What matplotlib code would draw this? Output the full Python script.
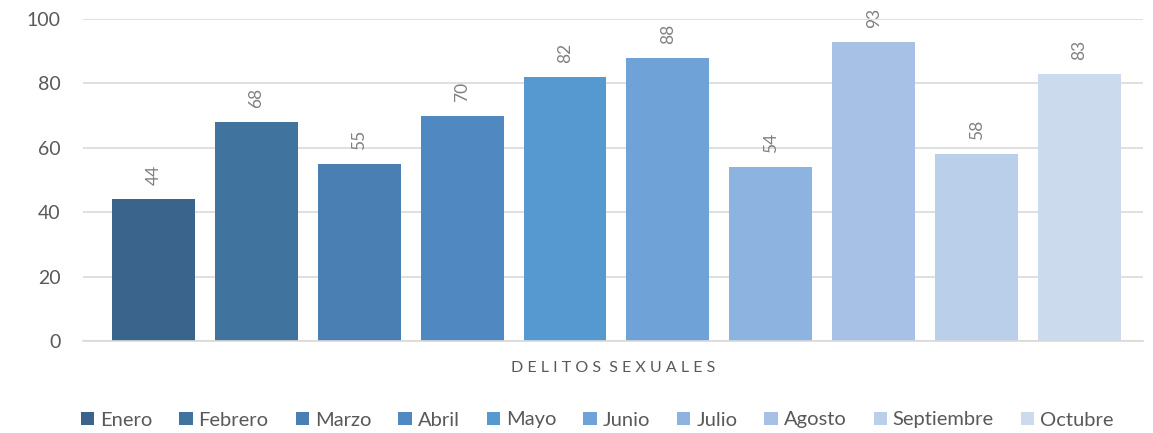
import matplotlib.pyplot as plt
import numpy as np

plt.rcParams['font.family'] = ['Lato', 'DejaVu Sans']

meses = ['Enero', 'Febrero', 'Marzo', 'Abril', 'Mayo', 'Junio', 'Julio',
         'Agosto', 'Septiembre', 'Octubre']
valores = [44, 68, 55, 70, 82, 88, 54, 93, 58, 83]
colores = ['#3B648D', '#41739F', '#4A7FB3', '#5089C2', '#5698D0',
           '#6FA3D8', '#8DB3E0', '#A7C1E6', '#BACFEA', '#CCDAEE']
categoria = 'DELITOS SEXUALES'

fig = plt.figure(figsize=(11.53, 4.33), dpi=100)
ax = fig.add_axes([83/1153, 1-341/433, 1060/1153, 322/433])

for i, (m, v, c) in enumerate(zip(meses, valores, colores)):
    ax.bar(i, v, width=0.806, color=c, label=m, zorder=2)
    ax.annotate(str(v), (i, v), xytext=(0, 10), textcoords='offset points',
                rotation=90, ha='center', va='bottom', fontsize=12.5,
                color='#808080')

ax.set_ylim(0, 100)
ax.set_xlim(-0.684, 9.617)
ax.set_yticks(range(0, 101, 20))
ax.yaxis.grid(True, color='#D9D9D9', linewidth=1.2, zorder=0)
ax.tick_params(axis='y', length=0, labelsize=14, labelcolor='#595959', pad=16)
ax.set_xticks([])
for s in ['top', 'right', 'left']:
    ax.spines[s].set_visible(False)
ax.spines['bottom'].set_color('#D9D9D9')
ax.spines['bottom'].set_linewidth(1.2)

ax.text(0.5, -0.085, '  '.join(' '.join(w) for w in categoria.split()),
        transform=ax.transAxes, ha='center', va='center', fontsize=11.5,
        color='#595959')

fig.legend(loc='center', bbox_to_anchor=(0.518, 1 - 420/433),
           ncol=10, frameon=False, fontsize=14.5, handlelength=0.65,
           handleheight=0.65, handletextpad=0.3, columnspacing=1.35,
           labelcolor='#595959')

fig.savefig('out.png', dpi=100)
